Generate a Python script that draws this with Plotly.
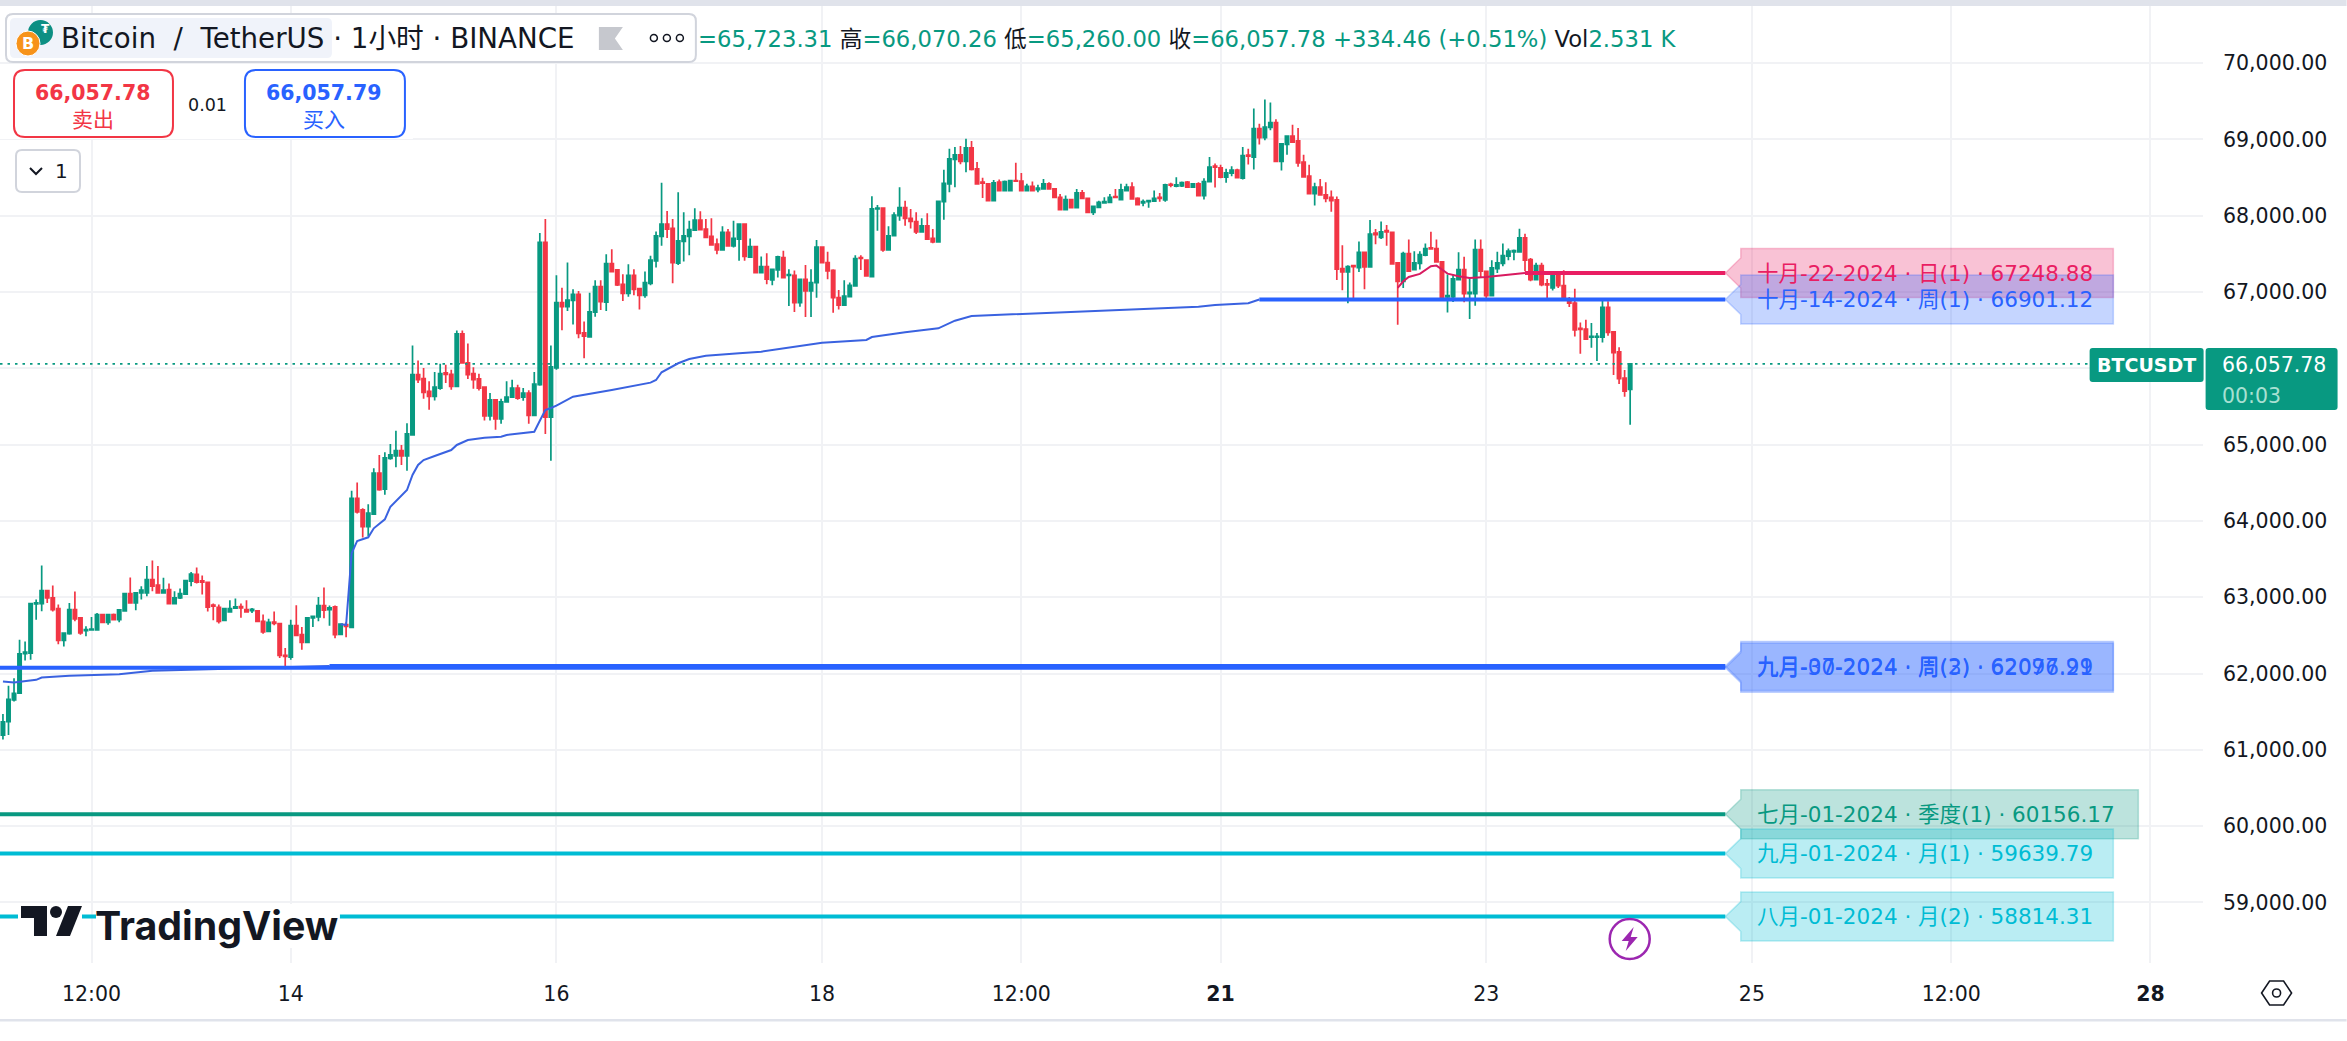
import pandas as pd
import plotly.graph_objects as go

# hourly BTCUSDT candles, first bar is Oct 11 20:00
opens = [
    61193,61368,61654,61741,62259,62268,62912,62917,63088,62991,62851,62434,62522,62838,62728,62561,
    62570,62570,62772,62671,62772,62706,62820,63048,62925,63057,63057,63232,63158,63057,63101,62917,
    62991,63039,63211,63298,63215,63193,62895,62868,62697,62807,62855,62877,62838,62825,62820,62684,
    62553,62675,62654,62237,62215,62627,62509,62408,62728,62741,62890,62838,62873,62513,62640,62605,
    64294,64145,63925,64088,64627,64417,64820,
    64851,64921,64851,65127,65917,65864,65697,65632,65741,65939,65921,65763,66452,66070,65930,65860,
    65754,65377,65588,65338,65561,65623,65741,65623,65675,65382,65785,67649,65360,
    66004,66860,66807,66890,66969,66465,66412,66737,67070,66868,67373,67289,67101,66982,67219,67044,
    66956,67114,67408,67728,67890,67833,67377,67662,67728,67812,67943,67825,67728,67627,67553,67781,
    67605,67693,67890,67456,67596,67254,67333,67158,67289,67452,67219,67219,66860,67167,67013,67123,
    67588,67386,67285,66925,66829,66939,67079,67452,67417,67202,68088,68101,67553,67737,68000,68105,
    67965,67921,67789,67868,67702,67658,68184,68417,68737,68798,68711,68890,68614,68439,68417,68197,
    68439,68329,68329,68461,68452,68329,68386,68342,68351,68417,68351,68241,68079,68211,68105,68298,
    68228,68044,68110,68167,68175,68250,
    68211,68329,68373,68228,68167,68184,68189,68241,68206,68412,68386,68390,68439,68373,68417,68263,
    68447,68649,68627,68504,68557,68596,68491,68794,68768,69140,69022,69158,69219,68711,68934,69044,
    68982,68702,68518,68289,68373,68272,68241,68206,67307,67263,67346,67320,67518,67329,67772,67715,
    67803,67781,
    67382,67140,67504,67294,67373,67482,67579,67570,67395,66934,66934,67162,67294,66978,66978,67557,
    67272,66952,67307,67373,67469,67526,67526,67711,67425,67162,67346,67105,67053,67228,67083,66908,
    66855,66522,66513,66408,66408,66408,66798,66478,66215,65873,65723.31,
]
highs = [
    61469,61838,61939,62443,62421,62925,62969,63417,63088,63154,62904,62539,62925,63075,62728,62618,
    62741,62794,62772,62772,62785,62838,63048,63259,63057,63145,63408,63482,63408,63254,63180,63079,
    63114,63219,63329,63390,63285,63193,62917,62904,62851,62961,62982,62917,62961,62860,62820,62772,
    62719,62811,62654,62333,62706,62895,62610,62728,62759,63004,63127,62890,62890,62649,62671,64395,
    64504,64167,64219,64689,64864,64899,65009,
    65180,64996,65281,66298,66101,66004,65829,65952,66061,66048,65982,66496,66496,66325,66013,65930,
    65754,65675,65588,65601,65829,65851,65785,65741,65711,65952,67772,67956,66298,
    67219,67057,67386,67035,67013,66614,66991,67154,67154,67496,67561,67289,67232,67364,67298,67044,
    67268,67474,67794,68430,68061,67956,68307,68044,67934,68097,68057,67956,67965,67702,67860,67825,
    67934,67899,67899,67702,67605,67465,67509,67307,67474,67539,67298,67281,67175,67355,67298,67680,
    67588,67526,67298,67026,67154,67123,67482,67482,67430,68254,68140,68101,67860,68044,68373,68197,
    68088,68044,67965,68031,67825,68189,68601,68877,68899,68912,69009,68978,68702,68496,68417,68469,
    68474,68461,68469,68693,68561,68417,68447,68404,68482,68439,68360,68285,68263,68219,68351,68338,
    68228,68132,68197,68241,68285,68351,
    68417,68417,68439,68241,68211,68197,68329,68298,68417,68430,68504,68447,68456,68425,68439,68491,
    68768,68684,68667,68614,68649,68614,68899,68877,69404,69206,69522,69482,69263,68943,69044,69193,
    69149,68798,68667,68430,68482,68439,68329,68250,67614,67351,67346,67662,67518,67943,67825,67925,
    67877,67781,
    67390,67526,67689,67535,67535,67636,67789,67689,67395,67228,67228,67522,67461,67197,67689,67689,
    67281,67417,67526,67636,67570,67557,67829,67763,67447,67382,67382,67171,67250,67228,67285,66934,
    67044,66601,66636,66592,66461,66899,66877,66478,66276,65978,66070.26,
]
lows = [
    61136,61193,61632,61732,62171,62180,62706,62816,62925,62811,62382,62355,62509,62684,62509,62487,
    62566,62566,62671,62640,62697,62671,62816,62925,62829,62969,63013,63079,63057,63057,62917,62904,
    62978,63039,63145,63180,63035,62811,62697,62654,62693,62807,62855,62732,62803,62794,62680,62522,
    62544,62632,62202,62057,62180,62487,62311,62408,62610,62684,62724,62627,62461,62509,62474,62605,
    64097,63781,63803,64088,64395,64342,64803,
    64702,64732,64658,65123,65807,65601,65456,65579,65719,65807,65719,65763,66061,65860,65732,65710,
    65316,65316,65193,65272,65553,65614,65588,65575,65272,65382,65772,65140,64789,
    65982,66500,66750,66575,66395,66132,66412,66675,66763,66750,67254,67079,66882,66939,66956,66772,
    66925,67088,67320,67605,67706,67114,67355,67399,67482,67803,67816,67715,67618,67496,67553,67596,
    67583,67408,67408,67452,67254,67254,67101,67088,67189,67189,66816,66737,66807,66671,66671,66925,
    67377,67167,66728,66772,66829,66934,67079,67289,67211,67202,67803,67526,67553,67737,67934,67868,
    67833,67759,67781,67684,67640,67658,67947,68307,68373,68675,68570,68592,68417,68232,68197,68197,
    68316,68329,68329,68452,68329,68329,68329,68307,68351,68351,68232,68079,68075,68096,68101,68219,
    68035,68009,68105,68162,68167,68232,
    68206,68320,68219,68132,68123,68105,68184,68184,68184,68373,68373,68377,68368,68368,68263,68211,
    68447,68368,68491,68430,68518,68491,68474,68671,68605,68934,68987,69118,68711,68592,68798,68956,
    68640,68500,68285,68132,68263,68175,68053,67158,67022,66851,66895,67263,67035,67329,67627,67693,
    67605,67368,
    66570,67053,67272,67294,67294,67469,67557,67382,66899,66732,66868,67162,66864,66645,66820,67197,
    66921,66943,67250,67338,67417,67417,67526,67272,67140,67162,67075,66886,67018,67053,66899,66803,
    66417,66189,66373,66268,66096,66338,66425,65912,65794,65627,65260,
]
closes = [
    61368,61662,61741,62259,62281,62917,62925,63088,62991,62838,62434,62531,62838,62715,62531,62575,
    62583,62772,62671,62772,62706,62833,63048,62925,63057,63092,63232,63145,63057,63092,62917,62991,
    63048,63219,63303,63197,63197,62868,62882,62684,62851,62851,62873,62860,62807,62842,62684,62544,
    62671,62658,62237,62224,62627,62500,62408,62728,62750,62890,62829,62860,62509,62649,62618,64294,
    64118,63925,64101,64627,64408,64825,64864,
    64921,64851,65140,65917,65851,65684,65632,65754,65930,65921,65763,66452,66070,65917,65851,65741,
    65377,65588,65338,65561,65623,65741,65610,65675,65382,65794,67649,65360,66018,
    66860,66807,66895,66969,66456,66421,66741,67070,66873,67373,67268,67092,66982,67219,67035,66956,
    67123,67417,67737,67890,67825,67386,67671,67737,67816,67943,67816,67715,67618,67553,67781,67605,
    67702,67890,67465,67596,67254,67333,67167,67298,67460,67189,67228,66860,67167,67013,67123,67588,
    67386,67276,66925,66829,66947,67088,67439,67439,67211,68088,68101,67553,67737,68009,68105,67965,
    67925,67789,67868,67693,67658,68189,68425,68746,68798,68711,68890,68605,68417,68425,68197,68430,
    68329,68447,68461,68452,68329,68386,68329,68360,68417,68351,68241,68079,68211,68105,68298,68228,
    68044,68123,68175,68184,68241,68241,
    68338,68373,68219,68145,68184,68197,68228,68228,68404,68399,68404,68434,68373,68417,68263,68447,
    68636,68636,68504,68561,68596,68500,68789,68781,69140,69022,69162,69219,68711,68943,69044,68965,
    68693,68509,68289,68373,68272,68228,68197,67298,67263,67333,67333,67518,67329,67759,67750,67789,
    67789,67368,
    67140,67504,67272,67382,67491,67570,67566,67395,66912,66952,67171,67294,66978,66996,67557,67272,
    66952,67316,67382,67478,67535,67544,67711,67417,67162,67346,67096,67092,67228,67083,66908,66855,
    66504,66509,66382,66417,66417,66798,66469,66206,65864,65702,66057.78,
]

# thin anchored lines: bar number and price
vwap1_bars = [0,2,6,7,12,21,27,38,45,51,59]
vwap1_prices = [61895,61882,61917,61947,61969,61991,62035,62057,62070,62088,62098]
vwap2_bars = [61,62,63,64,66,67,69,70,73,74,75,76,78,80,81,82,84,87,90,91,96,97,98,99,100,103,108,110,
              117,118,119,122,124,127,133,137,148,156,157,163,169,172,175,184,190,216,219,225,227]
vwap2_prices = [62645,62636,63575,63737,63785,63903,64021,64186,64405,64602,64733,64798,64851,64907,64929,64995,
                65060,65091,65104,65126,65169,65313,65453,65480,65510,65628,65685,65716,65812,65847,65948,66066,
                66122,66165,66197,66218,66336,66371,66410,66472,66524,66624,66685,66712,66734,66807,66830,66852,66901]
vwap3_bars = [252,253,254,256,258,259,260,261,263,265,268,272,275]
vwap3_prices = [67053,67140,67197,67237,67338,67346,67294,67241,67206,67184,67197,67228,67249]

# levels, None means it comes in from the left edge
level_prices = [67248.88, 66901.12, 62097.99, 62076.21, 60156.17, 59639.79, 58814.31]
level_start_bars = [275, 227, 59, None, None, None, None]
level_labels = [
    "十月-22-2024 · 日(1) · 67248.88",
    "十月-14-2024 · 周(1) · 66901.12",
    "九月-07-2024 · 周(2) · 62097.99",
    "九月-30-2024 · 周(3) · 62076.21",
    "七月-01-2024 · 季度(1) · 60156.17",
    "九月-01-2024 · 月(1) · 59639.79",
    "八月-01-2024 · 月(2) · 58814.31",
]
level_colors = ["#e91e63", "#2962ff", "#2962ff", "#2962ff", "#089981", "#00bcd4", "#00bcd4"]
level_end = "2024-10-24 19:12"

x_tickvals = ["2024-10-12 12:00", "2024-10-14", "2024-10-16", "2024-10-18", "2024-10-19 12:00", "2024-10-21",
              "2024-10-23", "2024-10-25", "2024-10-26 12:00", "2024-10-28"]
x_ticktext = ["12:00", "14", "16", "18", "12:00", "<b>21</b>", "23", "25", "12:00", "<b>28</b>"]
y_tickvals = list(range(59000, 70001, 1000))

x_start = "2024-10-11 19:28"
x_end = "2024-10-28 09:30"

times = pd.date_range("2024-10-11 20:00", periods=len(opens), freq="h")

UP = "#089981"
DOWN = "#f23645"
DARK = "#131722"
FONT = "DejaVu Sans, Noto Sans CJK SC"

# plot area in page pixels, overlays are placed relative to it
PLOT_R = 2203.4
PLOT_T = 6
PLOT_B = 963


def px(x):
    return x / PLOT_R


def py(y):
    return 1 - (y - PLOT_T) / (PLOT_B - PLOT_T)


def poly(points):
    s = "M " + " L ".join(f"{px(x)} {py(y)}" for x, y in points) + " Z"
    return s


def rrect(x0, y0, x1, y1, r):
    return (f"M {px(x0+r)} {py(y0)} L {px(x1-r)} {py(y0)} Q {px(x1)} {py(y0)} {px(x1)} {py(y0+r)} "
            f"L {px(x1)} {py(y1-r)} Q {px(x1)} {py(y1)} {px(x1-r)} {py(y1)} "
            f"L {px(x0+r)} {py(y1)} Q {px(x0)} {py(y1)} {px(x0)} {py(y1-r)} "
            f"L {px(x0)} {py(y0+r)} Q {px(x0)} {py(y0)} {px(x0+r)} {py(y0)} Z")


fig = go.Figure()

fig.add_trace(go.Candlestick(
    x=times, open=opens, high=highs, low=lows, close=closes,
    increasing=dict(line=dict(color=UP, width=1.7), fillcolor=UP),
    decreasing=dict(line=dict(color=DOWN, width=1.7), fillcolor=DOWN),
    whiskerwidth=0, hoverinfo="skip",
))

# last price
fig.add_trace(go.Scatter(x=[x_start, x_end], y=[closes[-1], closes[-1]], mode="lines",
                         line=dict(color=UP, width=1.8, dash="2.5px,5px"), hoverinfo="skip"))

for bars, prices, color in [(vwap1_bars, vwap1_prices, "#3a62e0"), (vwap2_bars, vwap2_prices, "#3a62e0"),
                            (vwap3_bars, vwap3_prices, "#d81b60")]:
    fig.add_trace(go.Scatter(x=times[bars], y=prices, mode="lines", line=dict(color=color, width=2),
                             hoverinfo="skip"))

shapes = []
annotations = []


def rgba(hex_color, a):
    r, g, b = int(hex_color[1:3], 16), int(hex_color[3:5], 16), int(hex_color[5:7], 16)
    return f"rgba({r},{g},{b},{a})"


def note(x, y, text, size=20.5, color=DARK, anchor="center", bold=False, family=FONT):
    annotations.append(dict(xref="paper", yref="paper", x=px(x), y=py(y), text=text, showarrow=False,
                            xanchor=anchor, yanchor="middle",
                            font=dict(family=family, size=size, color=color, weight=700 if bold else 400)))


def panel(path, fill="white", line=None, width=2):
    shapes.append(dict(type="path", xref="paper", yref="paper", path=path, fillcolor=fill,
                       line=dict(color=line or "rgba(0,0,0,0)", width=width), layer="above"))


for price, start, label, color in zip(level_prices, level_start_bars, level_labels, level_colors):
    x0 = x_start if start is None else times[start]
    fig.add_trace(go.Scatter(x=[x0, level_end], y=[price, price], mode="lines",
                             line=dict(color=color, width=4), hoverinfo="skip"))
    tag_w = 413 if "季度" in label else 388
    shapes.append(dict(type="path", xref="x", yref="y", xsizemode="pixel", ysizemode="pixel",
                       xanchor=level_end, yanchor=price, layer="above",
                       path=f"M 0 0 L 15.4 15 L 15.4 24.5 L {tag_w} 24.5 L {tag_w} -24.5 L 15.4 -24.5 L 15.4 -15 Z",
                       fillcolor=rgba(color, 0.27), line=dict(color=rgba(color, 0.25), width=1.5)))
    annotations.append(dict(xref="x", yref="y", x=level_end, y=price, xshift=29.5, text=label, showarrow=False,
                            xanchor="left", yanchor="middle", font=dict(family=FONT, size=21.5, color=color)))

# strips around the chart
panel(poly([(0, 0), (2347, 0), (2347, 6), (0, 6)]), fill="#e0e3eb")
panel(poly([(0, 1019), (2347, 1019), (2347, 1021.5), (0, 1021.5)]), fill="#e0e3eb")

# watermark
panel(poly([(18, 904), (82, 904), (82, 938), (18, 938)]))
panel(poly([(96, 904), (340, 904), (340, 948), (96, 948)]))
panel(poly([(21, 906), (47, 906), (47, 936), (34, 936), (34, 918), (21, 918)]), fill=DARK)
panel(poly([(68, 906), (82, 906), (70, 936), (56, 936)]), fill=DARK)
shapes.append(dict(type="circle", xref="paper", yref="paper", x0=px(50), x1=px(62), y0=py(906), y1=py(918),
                   fillcolor=DARK, line=dict(width=0), layer="above"))
note(93, 925, "TradingView", size=39.3, anchor="left", bold=True, family="Inter")

# title box
panel(rrect(6, 14, 696, 62, 7), line="#d1d4dc", width=2)
panel(rrect(10, 18, 332, 58, 5), fill="#f0f3fa")
shapes.append(dict(type="circle", xref="paper", yref="paper", x0=px(28), x1=px(53), y0=py(20), y1=py(45),
                   fillcolor="#0c8f83", line=dict(width=0), layer="above"))
shapes.append(dict(type="circle", xref="paper", yref="paper", x0=px(16), x1=px(40), y0=py(31), y1=py(56),
                   fillcolor="#f7931a", line=dict(color="white", width=1), layer="above"))
note(28, 43.5, "B", size=16, color="white", bold=True)
note(46, 29, "₮", size=12, color="white", bold=True)
note(59, 39, "Bitcoin  /  TetherUS · 1小时 · BINANCE", size=27.7, anchor="left")
panel(poly([(599, 27), (623, 27), (615, 38.5), (623, 50), (599, 50)]), fill="#c6c8ce")
for cx in [654, 667, 680]:
    shapes.append(dict(type="circle", xref="paper", yref="paper", x0=px(cx - 3.5), x1=px(cx + 3.5),
                       y0=py(34.5), y1=py(41.5), fillcolor="white", line=dict(color=DARK, width=1.5), layer="above"))


def val(s):
    return f'<span style="color:{UP}">{s}</span>'


note(696, 39, val("=65,723.31") + " 高" + val("=66,070.26") + " 低" + val("=65,260.00") + " 收" + val("=66,057.78")
     + " " + val("+334.46 (+0.51%)") + " Vol" + val("2.531 K"), size=22.7, anchor="left")

# buy and sell buttons
panel(poly([(0, 64), (413, 64), (413, 139), (0, 139)]))
panel(rrect(14, 70, 173, 137, 11), line=DOWN, width=2)
panel(rrect(245, 70, 405, 137, 11), line="#2962ff", width=2)
note(93, 93, "66,057.78", color=DOWN, bold=True)
note(93, 120, "卖出", size=21, color=DOWN)
note(324, 93, "66,057.79", color="#2962ff", bold=True)
note(324, 120, "买入", size=21, color="#2962ff")
note(208, 105, "0.01", size=17.5)

# lot dropdown
panel(rrect(16, 150, 80, 192, 6), line="#d1d4dc", width=2)
shapes.append(dict(type="path", xref="paper", yref="paper", layer="above", line=dict(color=DARK, width=2),
                   path=f"M {px(30)} {py(168)} L {px(36)} {py(174)} L {px(42)} {py(168)}"))
note(62, 171, "1", size=20)

# price labels on the right
panel(rrect(2090, 348, 2204, 382, 3), fill=UP)
panel(rrect(2206, 348, 2338, 410, 3), fill=UP)
note(2147, 365, "BTCUSDT", size=19, color="white", bold=True)
note(2220, 365, "66,057.78", color="white", anchor="left")
note(2220, 396, "00:03", color="#a8e0d2", anchor="left")

# settings icon under the price scale
panel(poly([(2262, 993), (2270, 981), (2284, 981), (2292, 993), (2284, 1005), (2270, 1005)]), line=DARK, width=1.6)
shapes.append(dict(type="circle", xref="paper", yref="paper", x0=px(2273), x1=px(2281), y0=py(989), y1=py(997),
                   fillcolor="white", line=dict(color=DARK, width=1.6), layer="above"))

# flash marker after the last bar
shapes.append(dict(type="circle", xref="paper", yref="paper", x0=px(1610), x1=px(1650), y0=py(919), y1=py(959),
                   fillcolor="white", line=dict(color="#9c27b0", width=2.5), layer="above"))
panel(poly([(1634, 927), (1622, 941), (1629, 941), (1626, 951), (1638, 937), (1631, 937)]), fill="#9c27b0")

fig.update_layout(
    width=2347, height=1041,
    margin=dict(l=0, r=2347 - PLOT_R, t=PLOT_T, b=1041 - PLOT_B),
    paper_bgcolor="white", plot_bgcolor="white",
    showlegend=False, boxgap=0.15,
    font=dict(family=FONT, size=20.5, color=DARK),
    shapes=shapes, annotations=annotations,
)
fig.update_xaxes(type="date", range=[x_start, x_end], tickmode="array", tickvals=x_tickvals, ticktext=x_ticktext,
                 rangeslider_visible=False, showgrid=True, gridcolor="#f1f2f5", gridwidth=1.6, zeroline=False,
                 ticks="", ticklabelstandoff=16, tickangle=0)
fig.update_yaxes(side="right", range=[58206, 70748], tickmode="array", tickvals=y_tickvals, tickformat=",.2f",
                 showgrid=True, gridcolor="#f1f2f5", gridwidth=1.6, zeroline=False, ticks="", ticklabelstandoff=19)

fig.write_html("out.html", post_script="document.body.style.margin='0';document.body.style.overflow='hidden';",
               config={"displayModeBar": False})
